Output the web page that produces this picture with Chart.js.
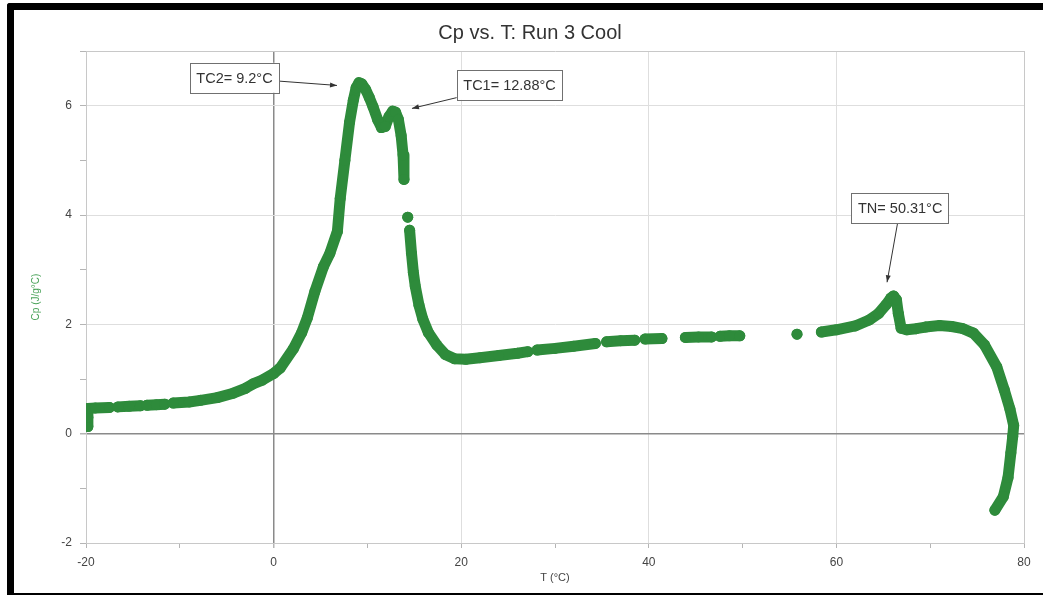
<!DOCTYPE html>
<html>
<head>
<meta charset="utf-8">
<script src="https://cdn.jsdelivr.net/npm/chart.js@4.4.1/dist/chart.umd.min.js"></script>
<style>
  html, body { margin: 0; padding: 0; background: #fff; overflow: hidden; width: 1043px; height: 595px; }
  #c { position: absolute; left: 0; top: 0; }
  #frame { position: absolute; left: 7px; top: 3px; width: 1100px; height: 583px;
           border-left: 7px solid #000; border-top: 7px solid #000; border-bottom: 7px solid #000;
           border-top-left-radius: 3px; pointer-events: none; }
</style>
</head>
<body>
<canvas id="c" width="1043" height="595"></canvas>
<div id="frame"></div>
<script>
// ---- data (null = gap between groups of points) ----
const T = [
  -19.8, -19.8, -19.8, -19.0, -17.5, null,
  -16.6, -15.4, -14.2, null,
  -13.5, -12.5, -11.6, null,
  -10.7, -9.0, -7.8, -6.0, -4.3, -3.0, -2.2, -1.2, 0.0, 0.7, 2.1, 3.0, 3.6, 4.4, 5.3, 6.0, 6.8, 7.1, 7.6, 8.1, 8.5, 8.8, 9.1, 9.4, 9.8, 10.2, 10.6, 11.1, 11.5, 11.9, 12.3, 12.7, 13.0, 13.3, 13.6, 13.8, 13.9, null,
  14.3, null,
  14.5, 14.7, 14.9, 15.1, 15.5, 15.9, 16.5, 17.4, 18.3, 19.3, 20.5, 22.0, 24.0, 26.0, 27.1, null,
  28.1, 30.0, 32.0, 34.3, null,
  35.5, 37.0, 38.5, null,
  39.6, 41.4, null,
  43.9, 45.3, 46.7, null,
  47.6, 48.6, 49.7, null,
  55.8, null,
  58.4, 60.0, 62.0, 63.5, 64.5, 65.3, 65.8, 66.1, 66.4, 66.6, 66.9, 67.5, 68.5, 69.5, 71.0, 72.3, 73.5, 74.6, 75.8, 77.1, 77.9, 78.5, 78.9, 78.8, 78.6, 78.3, 77.8, 76.9
];
const Cp = [
  0.13, 0.30, 0.46, 0.47, 0.48, null,
  0.49, 0.50, 0.51, null,
  0.52, 0.53, 0.54, null,
  0.56, 0.58, 0.61, 0.66, 0.74, 0.83, 0.91, 0.98, 1.10, 1.20, 1.55, 1.85, 2.12, 2.60, 3.05, 3.30, 3.70, 4.30, 5.00, 5.70, 6.10, 6.33, 6.42, 6.40, 6.30, 6.15, 5.98, 5.74, 5.60, 5.62, 5.80, 5.90, 5.88, 5.75, 5.45, 5.10, 4.65, null,
  3.96, null,
  3.72, 3.30, 2.95, 2.70, 2.35, 2.10, 1.85, 1.62, 1.45, 1.37, 1.36, 1.39, 1.43, 1.47, 1.50, null,
  1.53, 1.56, 1.60, 1.65, null,
  1.68, 1.70, 1.71, null,
  1.73, 1.74, null,
  1.76, 1.77, 1.77, null,
  1.78, 1.79, 1.79, null,
  1.82, null,
  1.86, 1.90, 1.97, 2.08, 2.20, 2.36, 2.48, 2.52, 2.45, 2.20, 1.93, 1.90, 1.92, 1.95, 1.98, 1.96, 1.92, 1.84, 1.62, 1.22, 0.80, 0.45, 0.15, -0.05, -0.35, -0.80, -1.15, -1.40
];
const xTickLabels = [-20, 0, 20, 40, 60, 80];
const yTickLabels = [-2, 0, 2, 4, 6];

// annotations: text, box centre and arrow tip in data units
const annText = ['TC2= 9.2°C', 'TC1= 12.88°C', 'TN= 50.31°C'];
const annBoxT = [-4.17, 25.15, 66.8];
const annBoxCp = [6.51, 6.38, 4.12];
const annTipT = [6.76, 14.75, 65.4];
const annTipCp = [6.37, 5.95, 2.77];

const titleText = 'Cp vs. T: Run 3 Cool';
const GREEN = '#2e8b3b';
const FONT = "'Liberation Sans', Arial, Helvetica, sans-serif";

const points = T.map((t, i) => ({ x: t, y: Cp[i] }));

const decorPlugin = {
  id: 'decor',
  afterDatasetsDraw(chart) {
    const ctx = chart.ctx;
    const xs = chart.scales.x, ys = chart.scales.y;
    ctx.save();
    ctx.font = '14.5px ' + FONT;
    ctx.textBaseline = 'middle';
    ctx.textAlign = 'center';
    for (let i = 0; i < annText.length; i++) {
      const cx = xs.getPixelForValue(annBoxT[i]);
      const cy = ys.getPixelForValue(annBoxCp[i]);
      const w = ctx.measureText(annText[i]).width + 13;
      const h = 30;
      const tx = xs.getPixelForValue(annTipT[i]);
      const ty = ys.getPixelForValue(annTipCp[i]);
      const dx = tx - cx, dy = ty - cy;
      const sx = Math.abs(dx) > 0 ? (w / 2) / Math.abs(dx) : Infinity;
      const sy = Math.abs(dy) > 0 ? (h / 2) / Math.abs(dy) : Infinity;
      const s = Math.min(sx, sy);
      const ax = cx + dx * s, ay = cy + dy * s;
      ctx.strokeStyle = '#333';
      ctx.fillStyle = '#333';
      ctx.lineWidth = 1;
      ctx.beginPath();
      ctx.moveTo(ax, ay);
      ctx.lineTo(tx, ty);
      ctx.stroke();
      const ang = Math.atan2(ty - ay, tx - ax);
      const L = 7, Wd = 2.5;
      ctx.beginPath();
      ctx.moveTo(tx, ty);
      ctx.lineTo(tx - L * Math.cos(ang) + Wd * Math.sin(ang), ty - L * Math.sin(ang) - Wd * Math.cos(ang));
      ctx.lineTo(tx - L * Math.cos(ang) - Wd * Math.sin(ang), ty - L * Math.sin(ang) + Wd * Math.cos(ang));
      ctx.closePath();
      ctx.fill();
      ctx.fillStyle = '#fff';
      ctx.fillRect(cx - w / 2, cy - h / 2, w, h);
      ctx.strokeStyle = '#707070';
      ctx.strokeRect(Math.round(cx - w / 2) + 0.5, Math.round(cy - h / 2) + 0.5, Math.round(w), h);
      ctx.fillStyle = '#333';
      ctx.fillText(annText[i], cx, cy + 1);
    }
    ctx.font = '20px ' + FONT;
    ctx.fillStyle = '#333';
    ctx.textAlign = 'center';
    ctx.textBaseline = 'middle';
    ctx.fillText(titleText, 530, 33);
    ctx.restore();
  }
};

new Chart(document.getElementById('c'), {
  type: 'scatter',
  data: {
    datasets: [{
      data: points,
      showLine: true,
      spanGaps: false,
      borderColor: GREEN,
      borderWidth: 11,
      borderCapStyle: 'round',
      borderJoinStyle: 'round',
      backgroundColor: GREEN,
      pointRadius: 5.5,
      pointBorderWidth: 0,
      pointBackgroundColor: GREEN,
      tension: 0
    }]
  },
  options: {
    responsive: false,
    animation: false,
    devicePixelRatio: 1,
    layout: { padding: { left: 14, right: 19, top: 51, bottom: 8 } },
    plugins: { legend: { display: false }, tooltip: { enabled: false }, title: { display: false } },
    scales: {
      x: {
        type: 'linear', min: -20, max: 80,
        afterFit: s => { s.height = 44; },
        ticks: {
          stepSize: 10, autoSkip: false, padding: 7, color: '#444',
          font: { family: FONT, size: 12 },
          maxRotation: 0,
          callback: v => xTickLabels.includes(v) ? String(v) : ''
        },
        grid: {
          tickLength: 5,
          tickColor: '#b5b5b5',
          lineWidth: ctx => (ctx.tick && ctx.tick.value === 0) ? 1.5 : 1,
          color: ctx => {
            const v = ctx.tick ? ctx.tick.value : null;
            if (v === 0) return '#8a8a8a';
            if (v === 80) return '#c8c8c8';
            if (xTickLabels.includes(v)) return '#dedede';
            return 'rgba(0,0,0,0)';
          }
        },
        border: { color: '#c8c8c8' },
        title: { display: true, text: 'T (°C)', color: '#444', font: { family: FONT, size: 11 }, padding: { top: 0, bottom: 2 } }
      },
      y: {
        type: 'linear', min: -2, max: 7,
        afterFit: s => { s.width = 72; },
        ticks: {
          stepSize: 1, autoSkip: false, padding: 8, color: '#444',
          font: { family: FONT, size: 12 },
          callback: v => yTickLabels.includes(v) ? String(v) : ''
        },
        grid: {
          tickLength: 6,
          tickColor: '#b5b5b5',
          lineWidth: ctx => (ctx.tick && ctx.tick.value === 0) ? 1.5 : 1,
          color: ctx => {
            const v = ctx.tick ? ctx.tick.value : null;
            if (v === 0) return '#8a8a8a';
            if (v === 7) return '#c8c8c8';
            if (yTickLabels.includes(v)) return '#dedede';
            return 'rgba(0,0,0,0)';
          }
        },
        border: { color: '#c8c8c8' },
        title: { display: true, text: 'Cp (J/g°C)', color: '#4aa35a', font: { family: FONT, size: 10 }, padding: { top: 16, bottom: 0 } }
      }
    }
  },
  plugins: [decorPlugin]
});
</script>
</body>
</html>
